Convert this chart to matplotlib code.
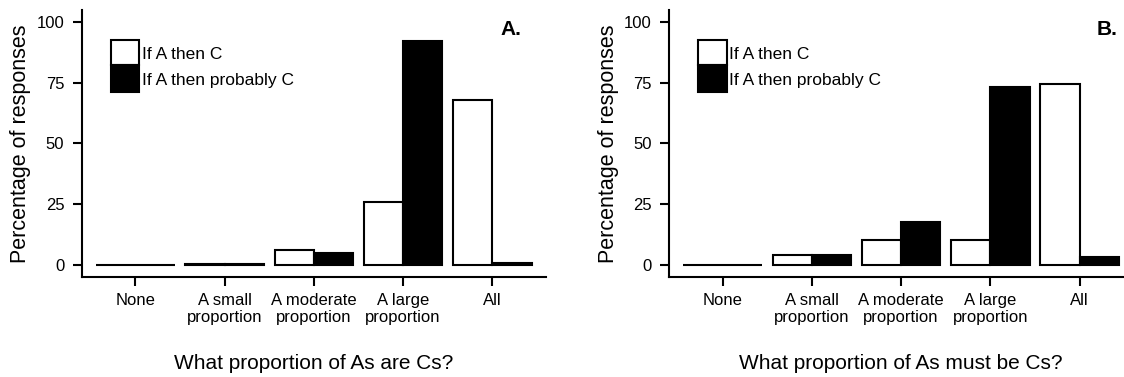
import numpy as np
import matplotlib
matplotlib.use("Agg")
import matplotlib.pyplot as plt
from matplotlib.patches import Rectangle

plt.rcParams['font.family'] = ['Liberation Sans', 'DejaVu Sans']

categories = ["None", "A small\nproportion", "A moderate\nproportion", "A large\nproportion", "All"]
series = ["If A then C", "If A then probably C"]

# panel A: What proportion of As are Cs?
a_then_c = [0, 0.3, 6, 26, 68]
a_prob_c = [0, 0.3, 5, 92, 1]
# panel B: What proportion of As must be Cs?
b_then_c = [0, 4, 10.3, 10.3, 74.4]
b_prob_c = [0, 4, 17.8, 73, 3.4]

panels = [
    {"white": a_then_c, "black": a_prob_c, "xlabel": "What proportion of As are Cs?",
     "tag": "A.", "left": 81.7, "tagx": 0.946},
    {"white": b_then_c, "black": b_prob_c, "xlabel": "What proportion of As must be Cs?",
     "tag": "B.", "left": 669, "tagx": 0.967},
]

W, H = 1124, 377
fig = plt.figure(figsize=(W / 100, H / 100), dpi=100)
x = np.arange(1, len(categories) + 1)
w = 0.44
lw = 1.5

for p in panels:
    ax = fig.add_axes([p["left"] / W, (H - 276.7) / H, 464.3 / W, 266.7 / H])
    ax.bar(x - w, p["white"], width=w, align="edge", facecolor="white", edgecolor="black", linewidth=lw)
    ax.bar(x, p["black"], width=w, align="edge", facecolor="black", edgecolor="black", linewidth=lw)
    ax.set_xlim(0.4, 5.6)
    ax.set_ylim(-4.8, 104.8)
    ax.set_yticks([0, 25, 50, 75, 100])
    ax.set_xticks(x)
    ax.set_xticklabels(categories, fontsize=12, linespacing=1.2)
    ax.tick_params(axis="y", labelsize=12, width=1.5, length=6.5, pad=6)
    ax.tick_params(axis="x", width=1.5, length=6.5, pad=5)
    for s in ["top", "right"]:
        ax.spines[s].set_visible(False)
    for s in ["left", "bottom"]:
        ax.spines[s].set_linewidth(1.5)
    ax.set_ylabel("Percentage of responses", fontsize=15.5)
    ax.yaxis.set_label_coords(-0.131, 0.5)
    ax.yaxis.label.set_va("center")
    ax.set_xlabel(p["xlabel"], fontsize=15)
    ax.xaxis.set_label_coords(0.5, -0.324)
    ax.xaxis.label.set_va("center")
    ax.text(p["tagx"], 0.926, p["tag"], transform=ax.transAxes, fontsize=15, fontweight="bold",
            ha="right", va="center")

    # legend: two stacked keys
    kx, kw = 0.063, 0.061
    tops = [0.8875, 0.794]
    bots = [0.794, 0.691]
    for lab, fc, t, b in zip(series, ["white", "black"], tops, bots):
        ax.add_patch(Rectangle((kx, b), kw, t - b, transform=ax.transAxes, facecolor=fc,
                               edgecolor="black", linewidth=lw, clip_on=False))
        ax.text(kx + kw + 0.005, (t + b) / 2 - 0.006, lab, transform=ax.transAxes,
                fontsize=12.5, ha="left", va="center")

fig.savefig("out.png", dpi=100)
